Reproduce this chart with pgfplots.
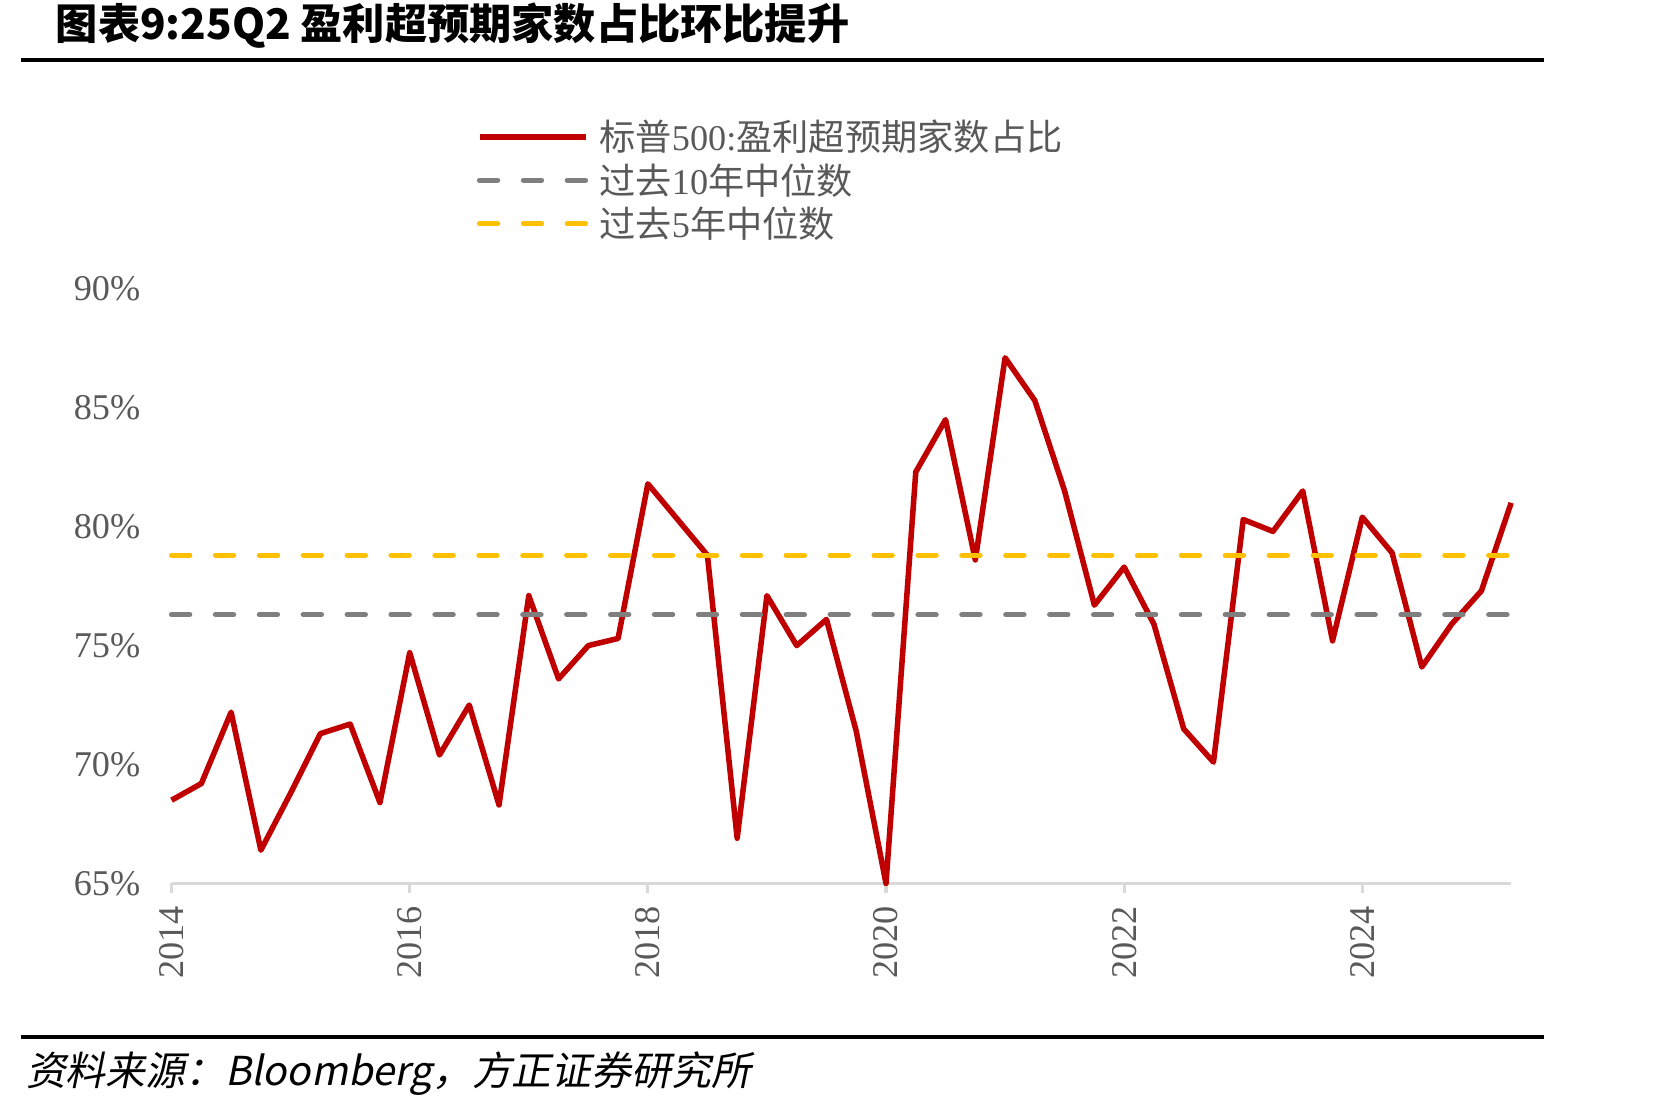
\documentclass[border=0pt]{standalone}
\usepackage{pgfplots}
\pgfplotsset{compat=1.18}
\usepackage{fontspec}
\setmainfont{Liberation Serif}
\newfontfamily\cjk{Noto Sans CJK SC}
\newfontfamily\cjksl[FakeSlant=0.2]{Noto Sans CJK SC}
\definecolor{myred}{HTML}{C00000}
\definecolor{mygray}{HTML}{7F7F7F}
\definecolor{myyellow}{HTML}{FFC000}
\definecolor{txt}{HTML}{595959}
\definecolor{axgray}{HTML}{D9D9D9}
\begin{document}
\begin{tikzpicture}
\path[use as bounding box] (0,0) rectangle (784pt,521pt);
\node[anchor=west, inner sep=0pt, font=\fontsize{19.8}{22}\cjk\bfseries] at (26pt,509pt) {图表9:25Q2 盈利超预期家数占比环比提升};
\draw[line width=2pt] (10pt,493pt) -- (724.5pt,493pt);
\draw[line width=2pt] (10pt,34.5pt) -- (724.5pt,34.5pt);
\node[anchor=west, inner sep=0pt, font=\fontsize{18.7}{21}\cjksl] at (12pt,17.5pt) {资料来源：Bloomberg，方正证券研究所};
\begin{axis}[
  scale only axis, width=628.5pt, height=279pt,
  at={(80.5pt,106.5pt)}, anchor=south west,
  xmin=0, xmax=45, ymin=65, ymax=90,
  axis x line*=bottom, axis y line*=left,
  y axis line style={draw=none},
  x axis line style={axgray, line width=1.5pt, -},
  xtick={0,8,16,24,32,40}, xticklabels={2014,2016,2018,2020,2022,2024},
  ytick={65,70,75,80,85,90},
  yticklabel={\pgfmathprintnumber{\tick}\%},
  /pgf/number format/assume math mode=true,
  xtick style={axgray, line width=1.5pt},
  ytick style={draw=none},
  major tick length=4.5pt, tick align=outside,
  ticklabel style={font=\fontsize{17}{20}\selectfont, text=txt},
  xticklabel style={rotate=90, anchor=east, inner sep=0pt, xshift=-6pt},
  yticklabel style={anchor=east, inner sep=0pt, xshift=-10pt},
  clip=false,
  legend style={at={(0.2275,1.2920)}, anchor=north west, draw=none, fill=none,
    inner sep=0pt, row sep=0.5pt, font=\fontsize{17}{20}\selectfont, text=txt},
  legend cell align=left,
  legend image code/.code={\draw[#1] (0pt,0pt) -- (50pt,0pt);},
]
\addplot[myred, line width=2.6pt, line join=round] coordinates {
(0,68.5) (1,69.2) (2,72.2) (3,66.4) (4,68.8) (5,71.3) (6,71.7) (7,68.4)
(8,74.7) (9,70.4) (10,72.5) (11,68.3) (12,77.1) (13,73.6) (14,75.0) (15,75.3)
(16,81.8) (17,80.3) (18,78.8) (19,66.9) (20,77.1) (21,75.0) (22,76.1) (23,71.4)
(24,65.0) (25,82.3) (26,84.5) (27,78.6) (28,87.1) (29,85.3) (30,81.5) (31,76.7)
(32,78.3) (33,75.9) (34,71.5) (35,70.1) (36,80.3) (37,79.8) (38,81.5) (39,75.2)
(40,80.4) (41,78.9) (42,74.1) (43,75.9) (44,77.3) (45,81.0)
};
\addlegendentry{\hspace*{3pt}{\cjk 标普}500:{\cjk 盈利超预期家数占比}}
\addplot[mygray, line width=2.5pt, line cap=round, dash pattern=on 8.5pt off 12.1pt] coordinates {(0,76.3) (45,76.3)};
\addlegendentry{\hspace*{3pt}{\cjk 过去}10{\cjk 年中位数}}
\addplot[myyellow, line width=2.5pt, line cap=round, dash pattern=on 8.5pt off 12.1pt] coordinates {(0,78.8) (45,78.8)};
\addlegendentry{\hspace*{3pt}{\cjk 过去}5{\cjk 年中位数}}
\end{axis}
\end{tikzpicture}
\end{document}
